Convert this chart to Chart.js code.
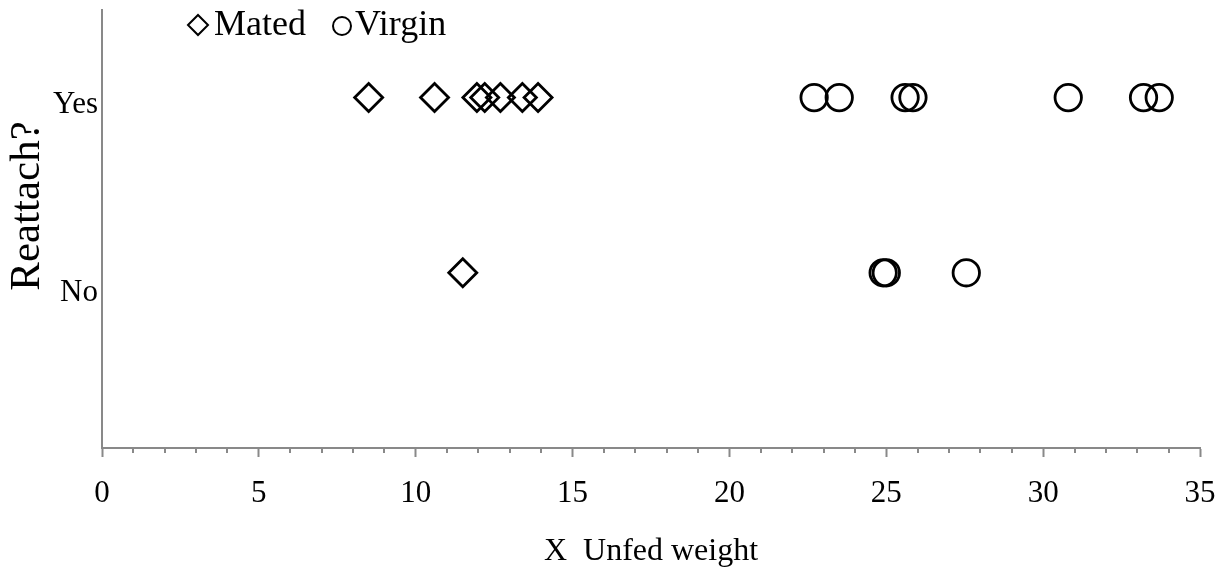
<!DOCTYPE html>
<html>
<head>
<meta charset="utf-8">
<script src="https://cdn.jsdelivr.net/npm/chart.js@4/dist/chart.umd.min.js"></script>
<style>
  html, body { margin: 0; padding: 0; background: #ffffff; }
  #wrap { width: 1226px; height: 574px; }
</style>
</head>
<body>
<div id="wrap"><canvas id="c" width="1226" height="574"></canvas></div>
<script>
// Series and category names
const seriesNames = ['Mated', 'Virgin'];
const reattachLabels = ['No', 'Yes'];      // drawn at levels 1 and 2
const reattachLevels = [1, 2];

// Unfed weight of each tick, split by group and by whether it reattached
const matedYesWeight = [8.5, 10.6, 11.95, 12.2, 12.7, 13.4, 13.9];
const matedNoWeight = [11.5];
const virginYesWeight = [22.7, 23.5, 25.6, 25.85, 30.8, 33.2, 33.7];
const virginNoWeight = [24.9, 25.0, 27.55];

// Axis ticks
const xTicks = [0, 5, 10, 15, 20, 25, 30, 35];
const xMinorStep = 1;

const SERIF = '"Liberation Serif", "Times New Roman", serif';
const AXIS_GREY = '#898989';

function toPoints(weights, level) {
  return weights.map(w => ({ x: w, y: level }));
}

// Minor ticks on the weight axis
const minorTicks = {
  id: 'minorTicks',
  afterDraw(chart) {
    const xs = chart.scales.x;
    const ctx = chart.ctx;
    ctx.save();
    ctx.strokeStyle = AXIS_GREY;
    ctx.lineWidth = 2;
    for (let v = xs.min; v <= xs.max; v += xMinorStep) {
      if (xTicks.includes(v)) continue;
      const px = Math.round(xs.getPixelForValue(v));
      ctx.beginPath();
      ctx.moveTo(px, xs.top);
      ctx.lineTo(px, xs.top + 5);
      ctx.stroke();
    }
    ctx.restore();
  }
};

// Yes / No labels, the rotated y title and the legend
const annotations = {
  id: 'annotations',
  afterDraw(chart) {
    const ctx = chart.ctx;
    const ys = chart.scales.y;
    ctx.save();
    ctx.fillStyle = '#000';

    // category labels beside the y axis
    ctx.font = '31px ' + SERIF;
    ctx.textAlign = 'right';
    ctx.textBaseline = 'middle';
    const nudge = [20, 7];
    reattachLabels.forEach((lab, i) => {
      ctx.fillText(lab, ys.right - 4, ys.getPixelForValue(reattachLevels[i]) + nudge[i]);
    });

    // y title
    ctx.save();
    ctx.translate(28, 206);
    ctx.rotate(-Math.PI / 2);
    ctx.font = '43px ' + SERIF;
    ctx.textAlign = 'center';
    ctx.textBaseline = 'middle';
    ctx.fillText('Reattach?', 0, 0);
    ctx.restore();

    // legend
    ctx.strokeStyle = '#000';
    ctx.lineWidth = 2;
    ctx.lineJoin = 'miter';
    const dx = 198, dy = 25, dh = 10;
    ctx.beginPath();
    ctx.moveTo(dx - dh, dy);
    ctx.lineTo(dx, dy - dh);
    ctx.lineTo(dx + dh, dy);
    ctx.lineTo(dx, dy + dh);
    ctx.closePath();
    ctx.stroke();
    ctx.beginPath();
    ctx.arc(342, 26, 9, 0, Math.PI * 2);
    ctx.stroke();
    ctx.font = '36px ' + SERIF;
    ctx.textAlign = 'left';
    ctx.textBaseline = 'middle';
    ctx.fillText(seriesNames[0], 214, 26);
    ctx.fillText(seriesNames[1], 355, 26);
    ctx.restore();
  }
};

new Chart(document.getElementById('c'), {
  type: 'scatter',
  data: {
    datasets: [
      {
        label: seriesNames[0],
        data: toPoints(matedYesWeight, 2).concat(toPoints(matedNoWeight, 1)),
        pointStyle: 'rectRot',
        pointRadius: 14,
        borderColor: '#000',
        backgroundColor: 'rgba(0,0,0,0)',
        borderWidth: 2.8
      },
      {
        label: seriesNames[1],
        data: toPoints(virginYesWeight, 2).concat(toPoints(virginNoWeight, 1)),
        pointStyle: 'circle',
        pointRadius: 13.2,
        borderColor: '#000',
        backgroundColor: 'rgba(0,0,0,0)',
        borderWidth: 2.8
      }
    ]
  },
  options: {
    responsive: false,
    devicePixelRatio: 1,
    animation: false,
    events: [],
    layout: { autoPadding: false, padding: { top: 10, right: 26, bottom: 0, left: 0 } },
    plugins: {
      legend: { display: false },
      tooltip: { enabled: false }
    },
    scales: {
      x: {
        type: 'linear',
        position: 'bottom',
        min: 0,
        max: 35,
        afterBuildTicks: s => { s.ticks = xTicks.map(v => ({ value: v })); },
        afterFit: s => { s.height = 126; s.paddingLeft = 0; s.paddingRight = 0; },
        ticks: {
          font: { family: SERIF, size: 31 },
          color: '#000',
          padding: 18,
          maxRotation: 0,
          autoSkip: false
        },
        grid: {
          drawOnChartArea: false,
          tickLength: 9,
          tickColor: AXIS_GREY,
          tickWidth: 2
        },
        border: { color: AXIS_GREY, width: 2 },
        title: {
          display: true,
          text: 'X  Unfed weight',
          font: { family: SERIF, size: 32 },
          color: '#000',
          padding: { top: 0, bottom: 3 }
        }
      },
      y: {
        type: 'linear',
        min: 0,
        max: 2.5,
        afterFit: s => { s.width = 102; },
        ticks: { display: false },
        grid: { display: false },
        border: { color: AXIS_GREY, width: 2 }
      }
    }
  },
  plugins: [minorTicks, annotations]
});
</script>
</body>
</html>
